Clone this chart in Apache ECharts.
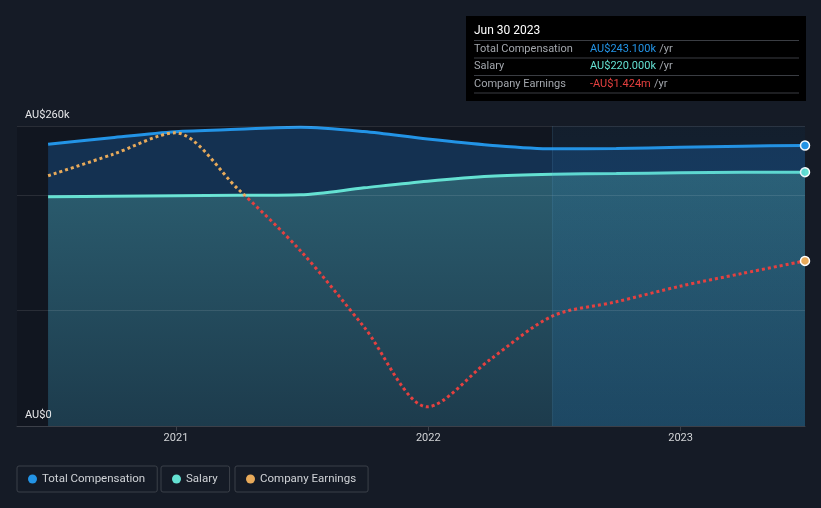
<!DOCTYPE html>
<html>
<head>
<meta charset="utf-8">
<script src="https://cdn.jsdelivr.net/npm/echarts@6/dist/echarts.min.js"></script>
<style>
html,body{margin:0;padding:0;background:#151b26;}
#chart{width:821px;height:508px;}
</style>
</head>
<body>
<div id="chart"></div>
<script>
const dates = ['2020-06-30','2020-09-30','2020-12-31','2021-03-31','2021-06-30','2021-09-30','2021-12-31','2022-03-31','2022-06-30','2022-09-30','2022-12-31','2023-03-31','2023-06-30'];
const totalComp = [244100, 249900, 255100, 257100, 258900, 255200, 248700, 243400, 240200, 240500, 241500, 242500, 243100];
const salary = [198700, 199100, 199500, 199900, 200400, 206400, 212200, 216500, 218200, 218800, 219400, 219900, 220000];
const earnings = [440000, 900000, 1380000, 160000, -1200000, -2870000, -4620000, -3590000, -2630000, -2320000, -1980000, -1700000, -1424000];
const yearTicks = ['2021-01-01','2022-01-01','2023-01-01'];
const yLabelValues = [0, 260000];
const gridValues = [100000, 200000, 260000];
const earnAxisMin = -5040000, earnAxisMax = 1530000;
const highlightStart = '2022-06-30';
const tooltipTitle = 'Jun 30 2023';

const ts = s => Date.parse(s + 'T00:00:00Z');
const DAY = 864e5;
const FONT = 'Roboto, "Noto Sans", sans-serif';
const C_COMP = '#2394e6';
const C_SAL = '#64e1d2';
const C_EARN_POS = '#e8aa5a';
const C_EARN_NEG = '#e5403f';
const SMOOTH = 0.3;

const compData = dates.map((d, i) => [ts(d), totalComp[i]]);
const salData = dates.map((d, i) => [ts(d), salary[i]]);
const earnData = dates.map((d, i) => [ts(d), earnings[i]]);
const last = dates.length - 1;

function endPoint(arr, color) {
  return arr.map((p, i) => i === last ? {value: p, symbol: 'circle', symbolSize: 9, itemStyle: {color: color, borderColor: '#ffffff', borderWidth: 1.5}} : {value: p, symbol: 'none'});
}

const chart = echarts.init(document.getElementById('chart'), null, {renderer: 'canvas'});

const legendBase = {
  top: 466, icon: 'circle', itemWidth: 9, itemHeight: 9,
  borderColor: '#3b4049', borderWidth: 1, borderRadius: 2,
  padding: [7, 12, 7, 11], selectedMode: false,
  textStyle: {color: '#cfd2d6', fontSize: 11.5, fontFamily: FONT}
};

const fmtK = v => 'AU$' + (v / 1000).toFixed(3) + 'k';
const fmtM = v => (v < 0 ? '-' : '') + 'AU$' + (Math.abs(v) / 1e6).toFixed(3) + 'm';

const tipX = 466, tipY = 16, tipW = 340, tipH = 85;
const rows = [
  {label: 'Total Compensation', value: fmtK(totalComp[last]), color: C_COMP, y: 49},
  {label: 'Salary', value: fmtK(salary[last]), color: C_SAL, y: 66.5},
  {label: 'Company Earnings', value: fmtM(earnings[last]), color: C_EARN_NEG, y: 84}
];
const graphics = [
  {type: 'rect', shape: {x: tipX, y: tipY, width: tipW, height: tipH}, style: {fill: '#000000'}, z: 100},
  {type: 'text', x: tipX + 8, y: 31, style: {text: tooltipTitle, fill: '#ffffff', font: '12px ' + FONT, verticalAlign: 'middle'}, z: 101}
];
[40.5, 58, 75.5, 93].forEach(y => graphics.push({type: 'line', shape: {x1: tipX + 8, y1: y, x2: tipX + 333, y2: y}, style: {stroke: '#3a3d43', lineWidth: 1}, z: 101}));
rows.forEach(r => {
  graphics.push({type: 'text', x: tipX + 8, y: r.y, style: {text: r.label, fill: '#a3a7ad', font: '11px ' + FONT, verticalAlign: 'middle'}, z: 101});
  graphics.push({type: 'text', x: tipX + 124, y: r.y, style: {
    text: '{v|' + r.value + '} {u|/yr}', verticalAlign: 'middle',
    rich: {v: {fill: r.color, font: '11px ' + FONT}, u: {fill: '#a3a7ad', font: '11px ' + FONT}}
  }, z: 101});
});

const option = {
  backgroundColor: '#151b26',
  animation: false,
  grid: {left: 17, right: 16, top: 126, bottom: 82, containLabel: false, show: true, backgroundColor: 'rgba(0,0,0,0.15)', borderWidth: 0},
  legend: [
    Object.assign({}, legendBase, {left: 17, data: [{name: 'Total Compensation', itemStyle: {color: C_COMP}}]}),
    Object.assign({}, legendBase, {left: 161, data: [{name: 'Salary', itemStyle: {color: C_SAL}}]}),
    Object.assign({}, legendBase, {left: 235, data: [{name: 'Company Earnings', itemStyle: {color: C_EARN_POS}}]})
  ],
  xAxis: {
    type: 'value',
    min: ts(dates[0]) - 45 * DAY,
    max: ts(dates[last]),
    axisLine: {show: true, onZero: false, lineStyle: {color: '#3c4049', width: 1}},
    axisTick: {show: true, customValues: yearTicks.map(ts), length: 5, lineStyle: {color: '#3c4049'}},
    axisLabel: {customValues: yearTicks.map(ts), formatter: v => String(new Date(v).getUTCFullYear()), color: '#d2d4d7', fontSize: 11, fontFamily: FONT, margin: 7},
    splitLine: {show: false}
  },
  yAxis: [
    {
      type: 'value', min: 0, max: 260000, z: 10,
      axisLine: {show: false}, axisTick: {show: false}, splitLine: {show: false},
      axisLabel: {
        inside: true, customValues: yLabelValues, margin: 8,
        formatter: v => v === 0 ? 'AU$0' : 'AU$' + (v / 1000) + 'k',
        color: '#e6e7e9', fontSize: 11, fontFamily: FONT,
        verticalAlign: 'bottom', padding: [0, 0, 5, 0]
      }
    },
    {type: 'value', min: earnAxisMin, max: earnAxisMax, show: false}
  ],
  graphic: graphics,
  series: [
    {
      name: 'Total Compensation', type: 'line', z: 2, smooth: SMOOTH, data: endPoint(compData, C_COMP),
      lineStyle: {color: C_COMP, width: 3}, itemStyle: {color: C_COMP},
      areaStyle: {color: 'rgba(35,140,240,0.34)', origin: 'start'}
    },
    {
      name: 'Salary', type: 'line', z: 2, smooth: SMOOTH, data: endPoint(salData, C_SAL),
      lineStyle: {color: C_SAL, width: 3}, itemStyle: {color: C_SAL},
      areaStyle: {origin: 'start', color: new echarts.graphic.LinearGradient(0, 0, 0, 1, [
        {offset: 0, color: 'rgba(54,114,126,0.97)'}, {offset: 1, color: 'rgba(33,64,74,0.97)'}
      ])},
      markLine: {silent: true, z: 4, symbol: 'none', label: {show: false},
        lineStyle: {color: 'rgba(255,255,255,0.1)', type: 'solid', width: 1},
        data: gridValues.map(v => ({yAxis: v})).concat([{xAxis: ts(highlightStart), lineStyle: {color: 'rgba(90,160,210,0.18)'}}])
      }
    },
    {
      name: 'Company Earnings', type: 'line', z: 3, smooth: SMOOTH, yAxisIndex: 1, data: earnData,
      symbol: 'none', lineStyle: {width: 3, type: [3, 3], cap: 'butt', color: C_EARN_NEG},
      markArea: {silent: true, z: 3, itemStyle: {color: new echarts.graphic.LinearGradient(0, 0, 0, 1, [
        {offset: 0, color: 'rgba(40,130,200,0.08)'}, {offset: 1, color: 'rgba(30,120,190,0.2)'}
      ])}, data: [[{xAxis: ts(highlightStart)}, {xAxis: ts(dates[last])}]]},
      markPoint: {silent: true, z: 6, symbol: 'circle', symbolSize: 9, label: {show: false},
        itemStyle: {color: C_EARN_POS, borderColor: '#ffffff', borderWidth: 1.5},
        data: [{coord: earnData[last]}]}
    }
  ]
};
chart.setOption(option);

// orange above zero, red below: split the stroke at the earnings axis' zero pixel
const yTop = chart.convertToPixel({yAxisIndex: 1}, earnAxisMax);
const yBot = chart.convertToPixel({yAxisIndex: 1}, earnAxisMin);
const yZero = chart.convertToPixel({yAxisIndex: 1}, 0);
const off = (yZero - yTop) / (yBot - yTop);
chart.setOption({
  series: [{}, {}, {
    lineStyle: {color: new echarts.graphic.LinearGradient(0, yTop, 0, yBot, [
      {offset: 0, color: C_EARN_POS}, {offset: off, color: C_EARN_POS},
      {offset: off, color: C_EARN_NEG}, {offset: 1, color: C_EARN_NEG}
    ], true)}
  }]
});
</script>
</body>
</html>
